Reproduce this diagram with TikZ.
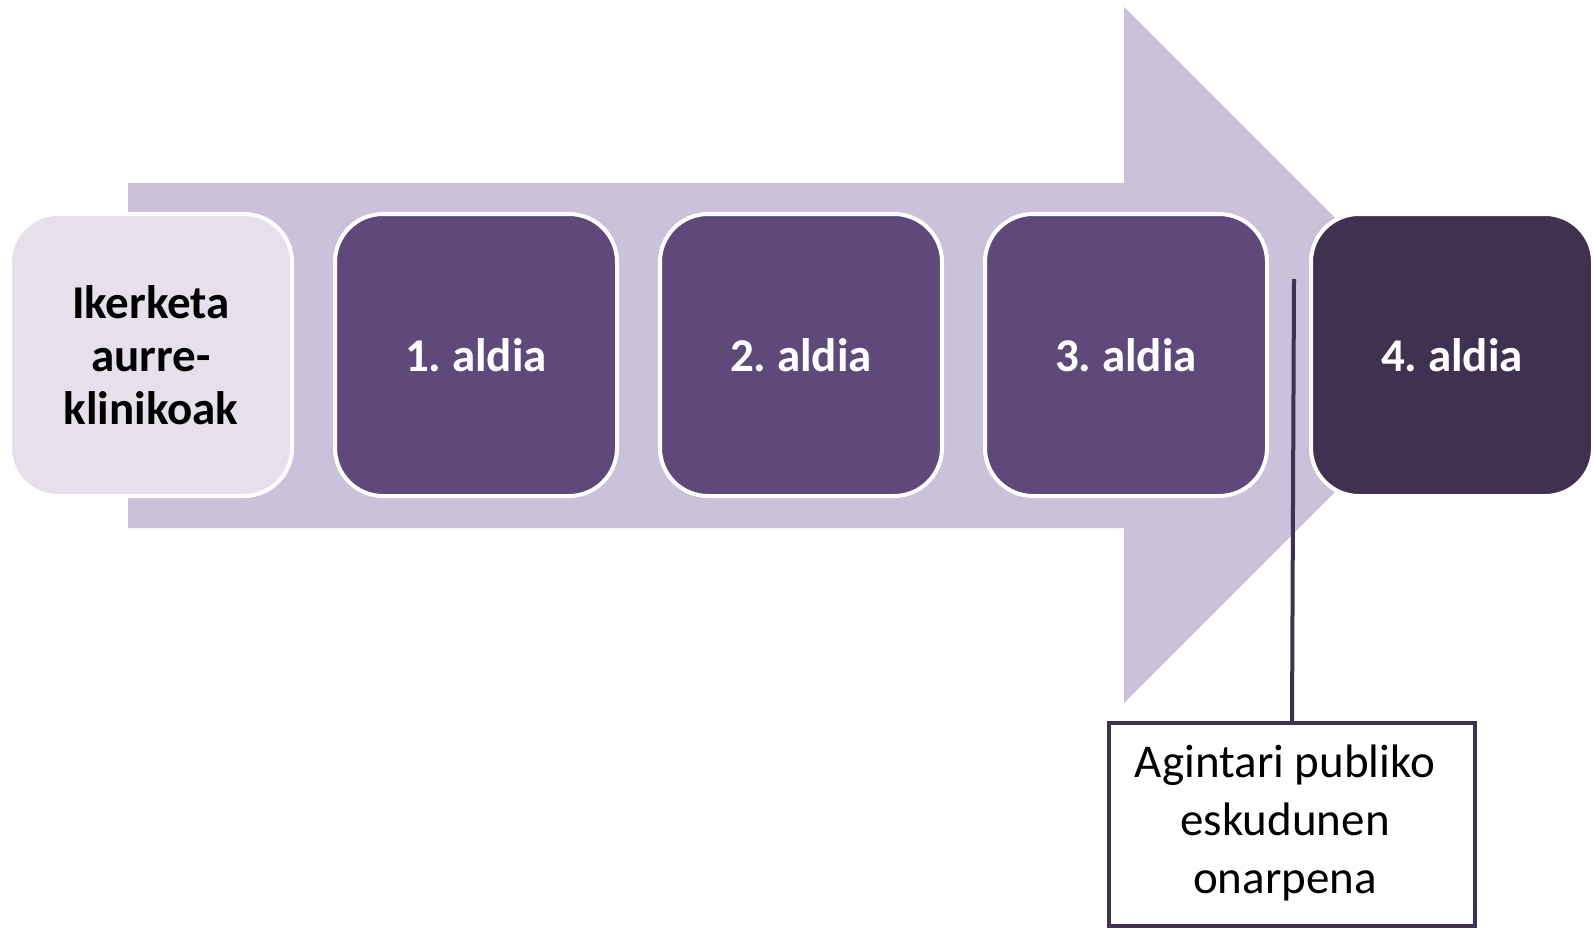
\documentclass[tikz,border=0pt]{standalone}
\usepackage{fontspec}
\setmainfont{Carlito}
\frenchspacing
\definecolor{arrowfill}{HTML}{CCC1DA}
\definecolor{prefill}{HTML}{E5E0EC}
\definecolor{phasefill}{HTML}{5F497A}
\definecolor{lastfill}{HTML}{403151}
\definecolor{noteline}{HTML}{3F3151}
\tikzset{
  stagebox/.style={rectangle, rounded corners=24pt, draw=white, line width=2pt,
    minimum width=141pt, minimum height=141pt, inner sep=0pt, align=center,
    font=\fontsize{23.5}{26.5}\selectfont\bfseries},
  phasebox/.style={stagebox, fill=phasefill, text=white},
  notebox/.style={rectangle, draw=noteline, line width=2pt, fill=white,
    minimum width=183pt, minimum height=101.5pt, inner sep=0pt},
  notetext/.style={align=center, font=\fontsize{23.5}{29}\selectfont, text=black},
  noteconn/.style={draw=noteline, line width=2pt}
}
\begin{document}
\begin{tikzpicture}[x=0.5pt, y=-0.5pt]
  \useasboundingbox (0,0) rectangle (1593,931);

  % broad background arrow
  \fill[arrowfill] (128,183) -- (1124,183) -- (1124,7) -- (1472,355)
    -- (1124,703) -- (1124,528) -- (128,528) -- cycle;

  % stages along the arrow
  \node[stagebox, fill=prefill, text=black] (pre) at (151,355)
    {Ikerketa\\aurre-\\klinikoak};
  \node[phasebox] (f1) at (476,355) {1. aldia};
  \node[phasebox] (f2) at (801,355) {2. aldia};
  \node[phasebox] (f3) at (1126,355) {3. aldia};
  \node[stagebox, fill=lastfill, text=white] (f4) at (1452,355) {4. aldia};

  % approval note with its pointer
  \node[notebox] (note) at (1292,824.5) {};
  \node[notetext] (notelabel) at (1285,823)
    {Agintari publiko\\eskudunen\\onarpena};
  \coordinate (mark) at (1294,279);
  \draw[noteconn] (mark) -- (note.north);
\end{tikzpicture}
\end{document}
